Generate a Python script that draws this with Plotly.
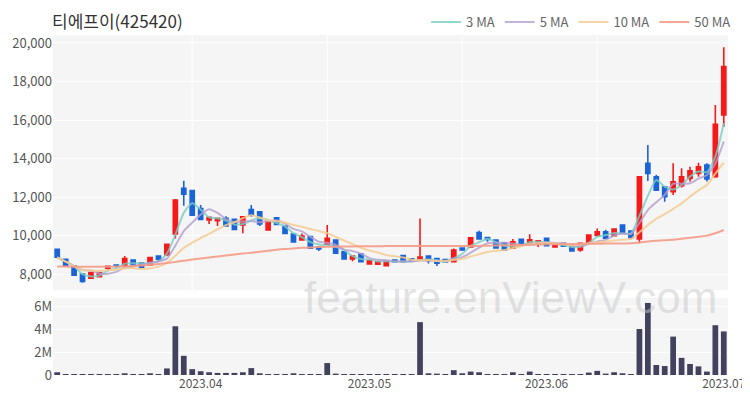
import pandas as pd
import plotly.graph_objects as go

# ---------------- data ----------------
holidays = ["2023-05-05", "2023-05-29", "2023-06-06"]
dates = [d.strftime("%Y-%m-%d") for d in pd.bdate_range("2023-03-09", "2023-07-03")
         if d.strftime("%Y-%m-%d") not in holidays]

open_ = [9280, 8760, 8410, 8000, 7780, 7860, 8300, 8460, 8460, 8730,
         8570, 8470, 8930, 8990, 10080, 12450, 12330, 11400, 10810, 10770,
         10900, 10840, 10550, 11350, 11230, 10290, 10920, 10490, 10070, 9770,
         9940, 9400, 9550, 9760, 9150, 8780, 9040, 8520, 8510, 8430,
         8720, 8960, 8790, 8730, 8930, 8810, 8750, 8640, 9350, 9400,
         10150, 9900, 9760, 9620, 9340, 9800, 9620, 9580, 9850, 9410,
         9590, 9500, 9250, 9600, 10000, 10190, 9990, 10540, 10230, 9820,
         13750, 13050, 12530, 12280, 12590, 12970, 13230, 13660, 13060, 16260]
high = [9320, 8790, 8420, 8020, 8100, 8120, 8420, 8480, 8940, 8740,
        8590, 8880, 8950, 9560, 11900, 12850, 12380, 11580, 10960, 10900,
        11000, 10860, 10980, 11580, 11250, 10760, 10940, 10500, 10080, 10110,
        9950, 9450, 10550, 9770, 9160, 8940, 9050, 8700, 8650, 8670,
        8740, 8980, 8800, 10890, 8950, 8820, 8770, 9330, 9370, 9890,
        10250, 9910, 9770, 9640, 9820, 9810, 10070, 9730, 9860, 9600,
        9600, 9510, 9600, 10030, 10370, 10300, 10340, 10560, 10240, 13050,
        14700, 13150, 12550, 13750, 13490, 13570, 13780, 13750, 16780, 19780]
low = [8850, 8400, 7920, 7550, 7760, 7840, 8210, 8340, 8440, 8460,
       8340, 8460, 8640, 8980, 9850, 11550, 11030, 10830, 10600, 10490,
       10450, 10280, 10120, 10980, 10500, 10280, 10540, 10080, 9640, 9760,
       9330, 9200, 9540, 9060, 8770, 8660, 8630, 8510, 8500, 8420,
       8620, 8620, 8660, 8720, 8550, 8420, 8620, 8630, 9190, 9390,
       9810, 9680, 9340, 9240, 9330, 9500, 9600, 9400, 9460, 9400,
       9430, 9190, 9160, 9590, 9990, 9850, 9980, 10110, 9800, 9600,
       12830, 12350, 11760, 12100, 12500, 12800, 13050, 12800, 13000, 15650]
close = [8870, 8420, 7940, 7610, 8080, 8070, 8400, 8400, 8810, 8470,
         8360, 8860, 8770, 9540, 11840, 12150, 11050, 10840, 10950, 10890,
         10500, 10310, 10970, 11070, 10600, 10750, 10580, 10110, 9670, 9970,
         9340, 9300, 9850, 9080, 8780, 8930, 8640, 8690, 8640, 8660,
         8640, 8640, 8680, 8880, 8690, 8560, 8630, 9250, 9250, 9880,
         9820, 9790, 9360, 9250, 9680, 9510, 9780, 9720, 9470, 9580,
         9440, 9200, 9590, 10020, 10190, 9860, 10330, 10120, 9890, 13050,
         13230, 12360, 12020, 12790, 13050, 13360, 13570, 12940, 15780, 18770]
volume = [0.24, 0.09, 0.09, 0.06, 0.03, 0.03, 0.03, 0.03, 0.15, 0.09,
          0.06, 0.15, 0.09, 0.57, 4.24, 1.67, 0.51, 0.33, 0.24, 0.18,
          0.18, 0.18, 0.24, 0.60, 0.15, 0.09, 0.09, 0.09, 0.15, 0.09,
          0.09, 0.03, 1.04, 0.12, 0.03, 0.03, 0.03, 0.03, 0.02, 0.02,
          0.01, 0.03, 0.03, 4.60, 0.15, 0.12, 0.02, 0.42, 0.15, 0.30,
          0.24, 0.09, 0.09, 0.09, 0.24, 0.09, 0.30, 0.09, 0.06, 0.03,
          0.03, 0.03, 0.06, 0.21, 0.36, 0.12, 0.24, 0.15, 0.06, 4.00,
          6.27, 0.87, 0.78, 3.34, 1.49, 0.96, 0.75, 0.30, 4.33, 3.79]
volume = [v * 1e6 for v in volume]
ma50 = [8390, 8385, 8380, 8375, 8375, 8375, 8380, 8385, 8395, 8410,
        8440, 8480, 8520, 8570, 8630, 8690, 8750, 8810, 8860, 8910,
        8960, 9010, 9060, 9110, 9160, 9210, 9260, 9300, 9330, 9360,
        9380, 9400, 9410, 9420, 9430, 9435, 9440, 9440, 9445, 9450,
        9450, 9450, 9455, 9455, 9460, 9460, 9460, 9460, 9460, 9460,
        9460, 9470, 9480, 9490, 9500, 9510, 9520, 9530, 9540, 9550,
        9555, 9560, 9565, 9570, 9575, 9580, 9585, 9590, 9595, 9635,
        9690, 9730, 9750, 9785, 9830, 9880, 9940, 9995, 10115, 10285]

month_ticks = ["2023-04-03", "2023-05-01", "2023-06-01", "2023-07-03"]
month_labels = ["2023.04", "2023.05", "2023.06", "2023.07"]

cs = pd.Series(close)
ma3 = cs.rolling(3, min_periods=1).mean().tolist()
ma5 = cs.rolling(5, min_periods=1).mean().tolist()
ma10 = cs.rolling(10, min_periods=1).mean().tolist()

# ---------------- figure ----------------
FONT = "Noto Sans CJK KR"
RED = "#f51a1a"
BLUE = "#1a64d8"
PMIN, PMAX = 7170, 20415

fig = go.Figure()
fig.add_trace(go.Candlestick(
    x=dates, open=open_, high=high, low=low, close=close,
    increasing=dict(line=dict(color=RED, width=1.6), fillcolor=RED),
    decreasing=dict(line=dict(color=BLUE, width=1.6), fillcolor=BLUE),
    showlegend=False, xaxis="x", yaxis="y"))

for name, vals, col in [("3 MA", ma3, "rgba(120,205,198,0.8)"),
                        ("5 MA", ma5, "rgba(180,158,205,0.8)"),
                        ("10 MA", ma10, "rgba(245,205,145,0.85)"),
                        ("50 MA", ma50, "rgba(245,155,135,0.9)")]:
    fig.add_trace(go.Scatter(x=dates, y=vals, name=name, mode="lines",
                             line=dict(color=col, width=2, shape="spline", smoothing=0.6),
                             xaxis="x", yaxis="y"))

fig.add_trace(go.Bar(x=dates, y=volume, marker=dict(color="#42425f", line=dict(width=0)),
                     showlegend=False, xaxis="x2", yaxis="y2"))

shapes = []
for k in (16, 32, 48, 64):
    shapes.append(dict(type="line", xref="x", yref="y", x0=dates[k], x1=dates[k],
                       y0=PMIN, y1=PMAX, line=dict(color="white", width=1), layer="below"))

fig.update_layout(
    width=750, height=400,
    margin=dict(l=45, r=30, t=27, b=33, autoexpand=False),
    paper_bgcolor="white", plot_bgcolor="#f5f5f6",
    font=dict(family=FONT, size=12, color="#555555"),
    title=dict(text="티에프이(425420)", x=0.0587, xanchor="left", y=0.966, yanchor="middle",
               font=dict(family=FONT, size=17, color="#333333")),
    showlegend=True,
    legend=dict(orientation="h", x=1.012, xanchor="right", y=1.038, yanchor="middle",
                font=dict(family=FONT, size=13, color="#666666"), bgcolor="rgba(0,0,0,0)"),
    bargap=0.32,
    xaxis=dict(domain=[0, 1], anchor="y", type="category", range=[-0.5, 79.5],
               showticklabels=False, showgrid=False, rangeslider=dict(visible=False),
               tickvals=month_ticks, ticks="", automargin=False),
    xaxis2=dict(domain=[0, 1], anchor="y2", type="category", matches="x",
                range=[-0.5, 79.5], tickvals=month_ticks, ticktext=month_labels,
                showgrid=False, ticks="", automargin=False,
                tickfont=dict(size=12, color="#555555")),
    yaxis=dict(domain=[0.25, 1], range=[PMIN, PMAX], dtick=2000, tickformat=",d",
               gridcolor="white", gridwidth=1, zeroline=False, ticks="", automargin=False,
               tickfont=dict(size=13, color="#555555")),
    yaxis2=dict(domain=[0, 0.2265], range=[0, 6.7e6], dtick=2e6, tickformat="~s",
                gridcolor="white", gridwidth=1, zeroline=False, ticks="", automargin=False,
                tickfont=dict(size=13, color="#555555")),
    shapes=shapes,
    annotations=[dict(text="feature.enViewV.com", xref="paper", yref="paper",
                      x=0.678, y=0.229, xanchor="center", yanchor="middle", showarrow=False,
                      font=dict(family="Liberation Sans", size=44, color="rgba(200,200,200,0.5)"))],
)

fig.write_html("out.html")
